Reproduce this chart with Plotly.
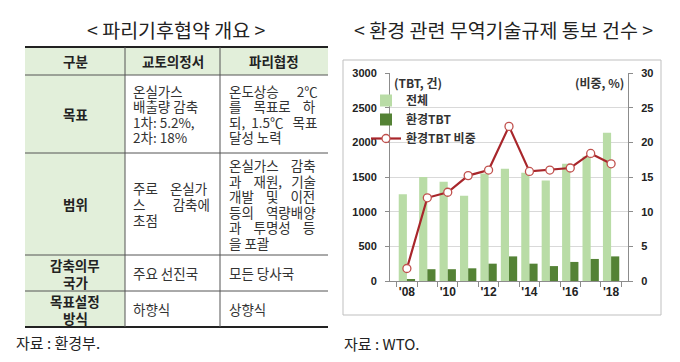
import plotly.graph_objects as go

W, H = 680, 362

# ---------------- chart data ----------------
years = ["2008", "2009", "2010", "2011", "2012", "2013", "2014", "2015", "2016", "2017", "2018"]
year_labels = ["'08", "", "'10", "", "'12", "", "'14", "", "'16", "", "'18"]
tbt_total = [1250, 1500, 1430, 1230, 1550, 1620, 1560, 1450, 1690, 1795, 2140]
tbt_env = [18, 170, 170, 183, 250, 355, 250, 215, 275, 318, 355]
env_share = [1.8, 12.0, 12.8, 15.2, 16.0, 22.3, 15.8, 16.0, 16.3, 18.4, 16.9]
series_names = ["전체", "환경TBT", "환경TBT 비중"]
left_ticks = [0, 500, 1000, 1500, 2000, 2500, 3000]
right_ticks = [0, 5, 10, 15, 20, 25, 30]
chart_title = "< 환경 관련 무역기술규제 통보 건수 >"
chart_source = "자료 : WTO."
left_unit = "(TBT, 건)"
right_unit = "(비중, %)"

# ---------------- table data ----------------
table_title = "< 파리기후협약 개요 >"
table_source = "자료 : 환경부."
table_header = ["구분", "교토의정서", "파리협정"]
row_labels = [["목표"], ["범위"], ["감축의무", "국가"], ["목표설정", "방식"]]
kyoto_col = [
    ["온실가스", "배출량 감축", "1차: 5.2%,", "2차: 18%"],
    ["주로 온실가", "스 감축에", "초점"],
    ["주요 선진국"],
    ["하향식"],
]
paris_col = [
    ["온도상승 2℃", "를 목표로 하", "되, 1.5℃ 목표", "달성 노력"],
    ["온실가스 감축", "과 재원, 기술", "개발 및 이전", "등의 역량배양", "과 투명성 등", "을 포괄"],
    ["모든 당사국"],
    ["상향식"],
]

# ---------------- layout / style ----------------
kyoto_justify = [False, True, False, False]
paris_justify = [True, True, False, False]


def X(px):
    return px / W


def Y(py):
    return 1 - py / H


FONT_KR = "Noto Sans CJK KR"
TFS = 13.5          # table font size
LH = 15.5           # table line height
LAB_LH = 17         # row-label line height
row_edges = [39, 67, 145, 247, 283, 319]
col_edges = [17, 117, 212, 320]
text_box = [(124, 203), (220, 311)]
GREEN_BG = "#E2EFDA"
NBSP = "\u00a0"


def est_width(s, fs):
    w = 0.0
    for ch in s:
        if "\uac00" <= ch <= "\ud7a3" or ch == "℃":
            w += fs * 0.97
        elif ch in ",.:'":
            w += fs * 0.26
        elif ch == "%":
            w += fs * 0.85
        elif ch in (" ", NBSP):
            w += fs * 0.224
        else:
            w += fs * 0.56
    return w


def justify(line, width, fs):
    words = line.split(" ")
    if len(words) < 2:
        return line
    extra = width - sum(est_width(w_, fs) for w_ in words)
    sp = fs * 0.224
    gaps = len(words) - 1
    total_sp = max(gaps, int(round(extra / sp)))
    out = words[0]
    used = 0
    for g in range(gaps):
        n = round(total_sp * (g + 1) / gaps) - used
        used += n
        out += NBSP * max(1, n) + words[g + 1]
    return out


fig = go.Figure()

fig.add_trace(go.Bar(x=years, y=tbt_total, name=series_names[0],
                     marker=dict(color="#B9DCA6", line=dict(width=0))))
fig.add_trace(go.Bar(x=years, y=tbt_env, name=series_names[1],
                     marker=dict(color="#548235", line=dict(width=0))))
fig.add_trace(go.Scatter(x=years, y=env_share, name=series_names[2], yaxis="y2",
                         mode="lines+markers",
                         line=dict(color="#A8262B", width=2.2),
                         marker=dict(symbol="circle", size=8, color="white",
                                     line=dict(color="#C0504D", width=1.3))))

shapes = []
annotations = []


def add_text(text, x, y, size, anchor="left", bold=False, color="#333333"):
    annotations.append(dict(
        text=text, x=X(x), y=Y(y), xref="paper", yref="paper",
        xanchor=anchor, yanchor="middle", align=anchor,
        showarrow=False, borderpad=0,
        font=dict(family=FONT_KR, size=size, color=color,
                  weight="bold" if bold else "normal"),
    ))


def add_line(x0, y0, x1, y1, color, width):
    shapes.append(dict(type="line", xref="paper", yref="paper",
                       x0=X(x0), y0=Y(y0), x1=X(x1), y1=Y(y1),
                       line=dict(color=color, width=width), layer="above"))


# table backgrounds
shapes.append(dict(type="rect", xref="paper", yref="paper", layer="below",
                   x0=X(col_edges[0]), x1=X(col_edges[-1]), y0=Y(row_edges[0]), y1=Y(row_edges[1]),
                   fillcolor=GREEN_BG, line=dict(width=0)))
shapes.append(dict(type="rect", xref="paper", yref="paper", layer="below",
                   x0=X(col_edges[0]), x1=X(col_edges[1]), y0=Y(row_edges[1]), y1=Y(row_edges[-1]),
                   fillcolor=GREEN_BG, line=dict(width=0)))
# table rules
for i, ry in enumerate(row_edges):
    thick = i in (0, len(row_edges) - 1)
    add_line(col_edges[0], ry, col_edges[-1], ry, "#222222" if thick else "#555555", 2 if thick else 1)
for cx in col_edges[1:-1]:
    add_line(cx, row_edges[0], cx, row_edges[-1], "#555555", 1)

# table title & header
add_text(table_title, 168, 22, 19.5, anchor="center", color="#222222")
for j, h in enumerate(table_header):
    cx = (col_edges[j] + col_edges[j + 1]) / 2
    add_text(h, cx, (row_edges[0] + row_edges[1]) / 2, 13.5, anchor="center", bold=True, color="#222222")


def cell_text(lines, left, right, yc, do_justify):
    n = len(lines)
    y0 = yc - (n - 1) * LH / 2
    for k, line in enumerate(lines):
        if do_justify and k < n - 1:
            t = justify(line, right - left, TFS)
        else:
            t = line.replace(" ", NBSP)
        add_text(t, left, y0 + k * LH, TFS)


for r in range(len(row_labels)):
    yc = (row_edges[r + 1] + row_edges[r + 2]) / 2
    lab = row_labels[r]
    for k, t in enumerate(lab):
        add_text(t, (col_edges[0] + col_edges[1]) / 2, yc - (len(lab) - 1) * LAB_LH / 2 + k * LAB_LH,
                 13.5, anchor="center", bold=True, color="#222222")
    cell_text(kyoto_col[r], text_box[0][0], text_box[0][1], yc, kyoto_justify[r])
    cell_text(paris_col[r], text_box[1][0], text_box[1][1], yc, paris_justify[r])

add_text(table_source, 7, 334, 15, color="#222222")

# chart frame, title, units, source
shapes.append(dict(type="rect", xref="paper", yref="paper", layer="below",
                   x0=X(335), x1=X(653), y0=Y(307), y1=Y(52),
                   line=dict(color="#BFBFBF", width=1), fillcolor="rgba(0,0,0,0)"))
add_text(chart_title, 495, 22, 19.5, anchor="center", color="#222222")
add_text(left_unit, 385, 75, 12, bold=True, color="#333333")
add_text(right_unit, 617, 75, 12, anchor="right", bold=True, color="#333333")
add_text(chart_source, 335, 335, 15, color="#222222")

tick_font = dict(family="Liberation Sans, Arial", size=11, color="#222222", weight="bold")

fig.update_layout(
    width=W, height=H,
    margin=dict(l=0, r=0, t=0, b=0, autoexpand=False),
    paper_bgcolor="white", plot_bgcolor="white",
    barmode="group", bargap=0.2, bargroupgap=0.0,
    showlegend=True,
    legend=dict(x=X(358), y=Y(78), xanchor="left", yanchor="top",
                bgcolor="rgba(0,0,0,0)", borderwidth=0, tracegroupgap=0,
                font=dict(family=FONT_KR, size=12, color="#333333", weight="bold"),
                traceorder="normal", itemwidth=30),
    xaxis=dict(domain=[X(382), X(620)], type="category",
               tickmode="array", tickvals=years, ticktext=year_labels, tickangle=0,
               tickson="boundaries", ticks="outside", ticklen=5, tickcolor="#8C8C8C",
               showline=True, linecolor="#8C8C8C", linewidth=1,
               showgrid=False, tickfont=dict(family="Liberation Sans, Arial", size=12,
                                             color="#222222", weight="bold"),
               anchor="y"),
    yaxis=dict(domain=[Y(273), Y(65)], range=[0, 3000], tickvals=left_ticks,
               ticks="outside", ticklen=4, tickcolor="#8C8C8C",
               showline=True, linecolor="#8C8C8C", linewidth=1,
               showgrid=True, gridcolor="#D9D9D9", gridwidth=1,
               zeroline=False, tickfont=tick_font, ticklabelstandoff=6),
    yaxis2=dict(overlaying="y", side="right", range=[0, 30], tickvals=right_ticks,
                ticks="outside", ticklen=4, tickcolor="#8C8C8C",
                showline=True, linecolor="#8C8C8C", linewidth=1,
                showgrid=False, zeroline=False, tickfont=tick_font, anchor="x",
                ticklabelstandoff=6),
    shapes=shapes,
    annotations=annotations,
)

fig.write_html("out.html")
